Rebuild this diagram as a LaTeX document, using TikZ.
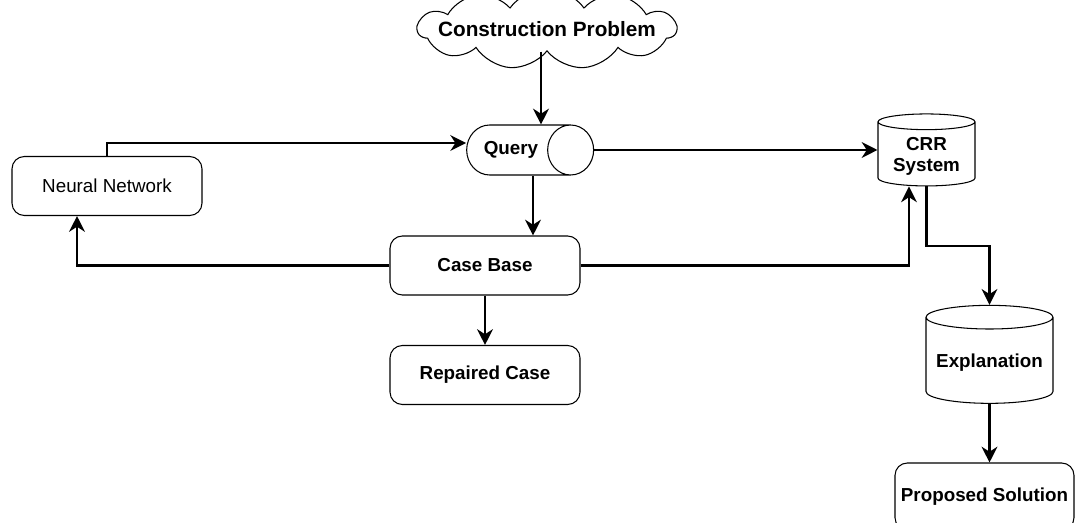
\documentclass[tikz,border=0pt]{standalone}
\usepackage{fontspec}
\setmainfont{Liberation Sans}
\usetikzlibrary{shapes.geometric,shapes.symbols,arrows.meta,calc}

\begin{document}
\begin{tikzpicture}[x=0.02cm, y=-0.02cm, line width=0.6pt,
  arr/.style={-{Stealth[length=9pt,width=9pt]}, line width=1.2pt},
  txt/.style={font=\fontsize{10.7}{12}\selectfont\bfseries, align=center},
  box/.style={draw, txt, rounded corners=7pt, minimum width=3.8cm, minimum height=1.18cm},
  tank/.style={draw, txt, cylinder, shape border rotate=90, aspect=0.2}]
  \useasboundingbox (0,0) rectangle (1076,523);

  % Nodes
  \node[draw, cloud, cloud puffs=11, cloud puff arc=110, aspect=6, inner xsep=-0.32cm, inner ysep=0pt,
        minimum width=4.5cm, minimum height=0.75cm,
        font=\fontsize{11.8}{14}\selectfont\bfseries] (cp) at (547,29) {Construction Problem};
  \node[draw, txt, cylinder, aspect=1.6, minimum width=1cm, minimum height=2.54cm] (query) at (511,150) {Query};
  \node[tank, minimum width=1.94cm, minimum height=1.44cm] (crr) at (926.5,156) {CRR\\System};
  \node[box, font=\fontsize{10.7}{12}\selectfont] (nn) at (107,186) {Neural Network};
  \node[box] (cb) at (485,265.5) {Case Base};
  \node[box] (rc) at (485,375) {Repaired Case};
  \node[tank, minimum width=2.54cm, minimum height=1.96cm] (expl) at (989.5,363) {Explanation};
  \node[box, minimum width=3.58cm, minimum height=1.34cm] (ps) at (984.5,496.5) {Proposed Solution};

  % Links
  \coordinate (qtop) at ([xshift=0.6cm]query.north);
  \coordinate (qbot) at ([xshift=0.44cm]query.south);
  \draw[arr] (cp.south -| qtop) -- (qtop);
  \draw[arr] (nn.north) |- ([yshift=0.14cm]query.west);
  \draw[arr] (query.east) -- (query.east -| crr.west);
  \draw[arr] (qbot) -- (qbot |- cb.north);
  \draw[arr] (cb.west) -| ([xshift=-0.6cm]nn.south);
  \draw[arr] (cb.east) -| ([xshift=-0.35cm]crr.south);
  \draw[arr] (cb.south) -- (rc.north);
  \draw[arr] (crr.south) |- ($(crr.south)!0.5!(expl.north)$) -| (expl.north);
  \draw[arr] (expl.south) -- (expl.south |- ps.north);
\end{tikzpicture}
\end{document}
